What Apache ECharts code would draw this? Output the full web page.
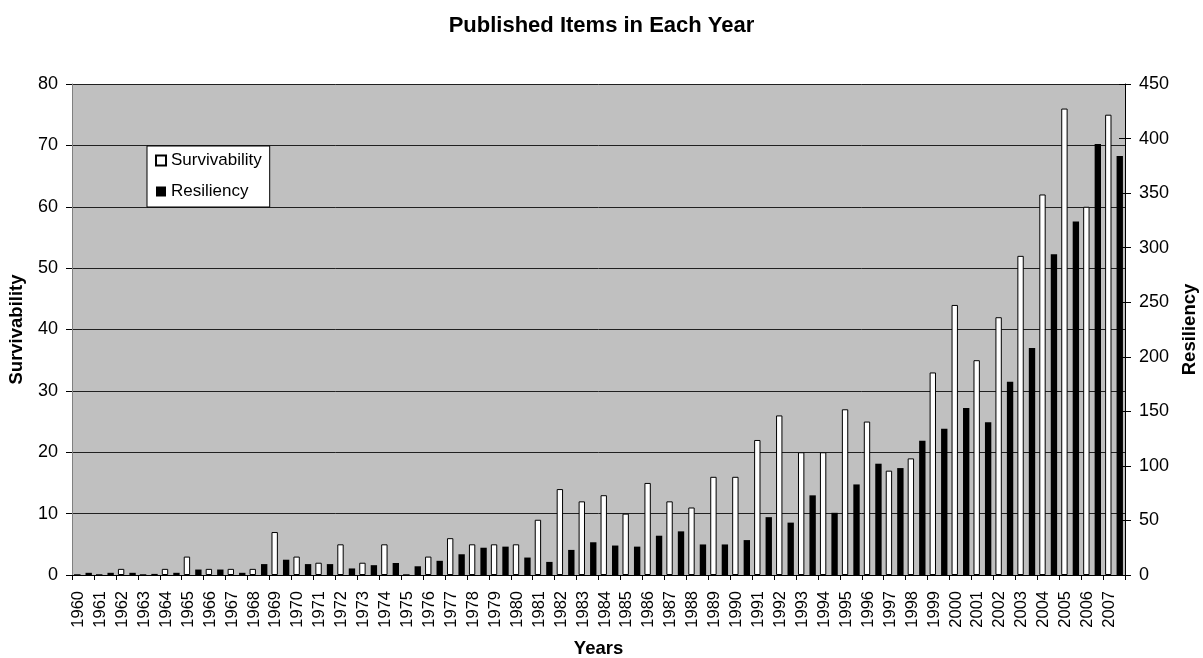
<!DOCTYPE html>
<html>
<head>
<meta charset="utf-8">
<script src="https://cdn.jsdelivr.net/npm/echarts@6/dist/echarts.min.js"></script>
<style>
html,body{margin:0;padding:0;background:#fff;}
#chart{width:1203px;height:658px;}
</style>
</head>
<body>
<div id="chart"></div>
<script>
var years = ['1960','1961','1962','1963','1964','1965','1966','1967','1968','1969',
  '1970','1971','1972','1973','1974','1975','1976','1977','1978','1979',
  '1980','1981','1982','1983','1984','1985','1986','1987','1988','1989',
  '1990','1991','1992','1993','1994','1995','1996','1997','1998','1999',
  '2000','2001','2002','2003','2004','2005','2006','2007'];
var survivability = [0,0,1,0,1,3,1,1,1,7,
  3,2,5,2,5,0,3,6,5,5,
  5,9,14,12,13,10,15,12,11,16,
  16,22,26,20,20,27,25,17,19,33,
  44,35,42,52,62,76,60,75];
var resiliency = [2,2,2,1,2,5,5,2,10,14,
  10,10,6,9,11,8,13,19,25,26,
  16,12,23,30,27,26,36,40,28,28,
  32,53,48,73,57,83,102,98,123,134,
  153,140,177,208,294,324,395,384];
var leftTicks = {min:0, max:80, interval:10};
var rightTicks = {min:0, max:450, interval:50};

var FONT = "'Liberation Sans', Arial, sans-serif";
var chart = echarts.init(document.getElementById('chart'), null, {renderer:'canvas'});
chart.setOption({
  animation:false,
  backgroundColor:'#ffffff',
  textStyle:{fontFamily:FONT, color:'#000'},
  title:{
    text:'Published Items in Each Year',
    left:'center', top:10,
    textStyle:{fontFamily:FONT, fontSize:22, fontWeight:'bold', color:'#000'}
  },
  legend:{
    orient:'vertical',
    left:147, top:146,
    backgroundColor:'#ffffff',
    borderColor:'#000', borderWidth:1, borderRadius:0,
    padding:[6,8,7,8],
    itemWidth:10, itemHeight:10, itemGap:14,
    icon:'rect',
    textStyle:{fontFamily:FONT, fontSize:17, color:'#000'},
    data:['Survivability','Resiliency']
  },
  grid:{left:72, right:78, top:84, bottom:83, show:true, backgroundColor:'#c0c0c0', borderWidth:0,
    containLabel:false, outerBoundsMode:'none'},
  xAxis:{
    type:'category',
    data:years,
    name:'Years',
    nameLocation:'middle',
    nameGap:64,
    nameTextStyle:{fontFamily:FONT, fontSize:18.5, fontWeight:'bold', color:'#000'},
    axisLine:{lineStyle:{color:'#000', width:1}},
    axisTick:{show:true, inside:false, length:5, interval:0, alignWithLabel:false, lineStyle:{color:'#000'}},
    axisLabel:{interval:0, rotate:90, margin:16, fontFamily:FONT, fontSize:16.5, color:'#000',
      verticalAlign:'bottom', lineHeight:9},
    splitLine:{show:false}
  },
  yAxis:[{
    type:'value',
    min:leftTicks.min, max:leftTicks.max, interval:leftTicks.interval,
    name:'Survivability',
    nameLocation:'middle',
    nameGap:46,
    nameTextStyle:{fontFamily:FONT, fontSize:18.5, fontWeight:'bold', color:'#000'},
    axisLine:{show:true, lineStyle:{color:'#808080', width:1}},
    axisTick:{show:true, inside:false, length:6, lineStyle:{color:'#000'}},
    axisLabel:{margin:14, fontFamily:FONT, fontSize:18, color:'#000'},
    splitLine:{show:true, lineStyle:{color:'#202020', width:1}}
  },{
    type:'value',
    position:'right',
    min:rightTicks.min, max:rightTicks.max, interval:rightTicks.interval,
    name:'Resiliency',
    nameLocation:'middle',
    nameGap:54,
    nameTextStyle:{fontFamily:FONT, fontSize:18.5, fontWeight:'bold', color:'#000'},
    axisLine:{show:true, lineStyle:{color:'#000', width:1}},
    axisTick:{show:true, inside:false, length:6, lineStyle:{color:'#000'}},
    axisLabel:{margin:14, fontFamily:FONT, fontSize:18, color:'#000'},
    splitLine:{show:false}
  },{
    type:'value',
    position:'right',
    min:rightTicks.min, max:rightTicks.max, interval:rightTicks.interval,
    axisLine:{show:false},
    axisTick:{show:true, inside:true, length:6, lineStyle:{color:'#000'}},
    axisLabel:{show:false},
    splitLine:{show:false}
  }],
  series:[{
    name:'Survivability',
    type:'bar',
    yAxisIndex:0,
    data:survivability,
    barWidth:'29%',
    barGap:'80%',
    itemStyle:{color:'#ffffff', borderColor:'#000', borderWidth:1}
  },{
    name:'Resiliency',
    type:'bar',
    yAxisIndex:1,
    data:resiliency,
    barWidth:'29%',
    barGap:'80%',
    itemStyle:{color:'#000000', borderColor:'#000', borderWidth:0}
  }]
});
</script>
</body>
</html>
